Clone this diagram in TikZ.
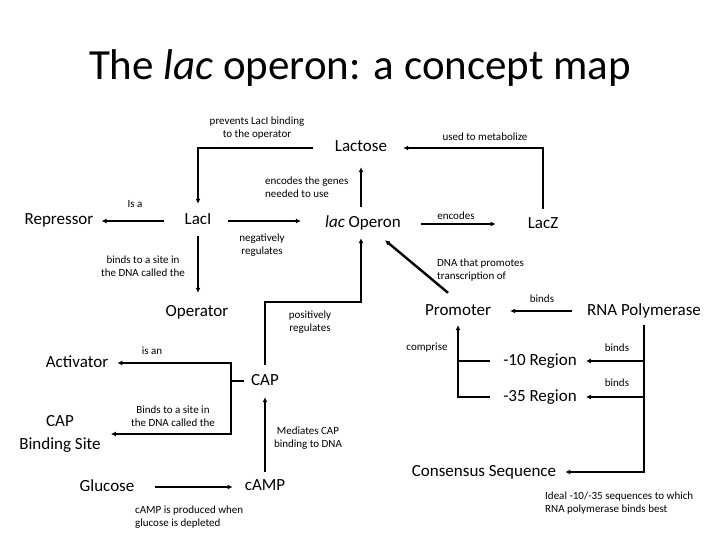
\documentclass[tikz,border=0pt]{standalone}
\usepackage{fontspec}
\setmainfont{Carlito}
\usetikzlibrary{arrows.meta}
\tikzset{
  bigfont/.style={inner sep=0pt, font=\fontsize{17}{23}\selectfont},
  concept/.style={bigfont, text height=12pt, text depth=4pt},
  linktext/.style={inner sep=0pt, align=center, font=\fontsize{11}{13.5}\selectfont},
  link/.style={line width=2.4pt, -{Latex[length=5pt,width=5pt]}},
  bare/.style={line width=2.4pt}
}

\begin{document}
\begin{tikzpicture}[x=1pt, y=-1pt]
			%%%%% START %%%%%
			\useasboundingbox[fill=white] (0, 0) rectangle (720, 540);
			
			\node[inner sep=0pt, font=\fontsize{43}{50}\selectfont] (title) at (360, 68) {The \textit{lac} operon: a concept map};
			
			% concepts
			\node[concept] (repr) at (59, 221) {Repressor};
			\node[concept] (laci) at (198, 221) {LacI};
			\node[concept] (lactose) at (361, 148) {Lactose};
			\node[concept] (operon) at (363, 224) {\textit{lac} Operon};
			\node[concept] (lacz) at (543, 225) {LacZ};
			\node[concept] (operator) at (197, 312) {Operator};
			\node[concept] (promoter) at (458, 311) {Promoter};
			\node[concept] (rnap) at (644, 311) {RNA Polymerase};
			\node[concept] (activator) at (77, 363) {Activator};
			\node[concept] (cap) at (265, 381) {CAP};
			\node[bigfont, align=center] (capbs) at (60, 434) {CAP\\Binding Site};
			\node[concept] (r10) at (540, 361) {-10 Region};
			\node[concept] (r35) at (540, 397) {-35 Region};
			\node[concept] (glucose) at (107, 487) {Glucose};
			\node[concept] (camp) at (265, 486) {cAMP};
			\node[concept] (consensus) at (484, 472) {Consensus Sequence};
			
			% link texts
			\node[linktext] (isa) at (135, 204) {Is a};
			\node[linktext] (negreg) at (262, 245) {negatively\\regulates};
			\node[linktext] (bindsop) at (143, 266) {binds to a site in\\the DNA called the};
			\node[linktext] (prevents) at (257, 128) {prevents LacI binding\\to the operator};
			\node[linktext] (metab) at (485, 137) {used to metabolize};
			\node[linktext, anchor=west, align=left] (genes) at (265, 187) {encodes the genes\\needed to use};
			\node[linktext] (encodes) at (456, 216) {encodes};
			\node[linktext, anchor=west, align=left] (dnaprom) at (437, 270) {DNA that promotes\\transcription of};
			\node[linktext] (bindsprom) at (542, 299) {binds};
			\node[linktext] (posreg) at (310, 322) {positively\\regulates};
			\node[linktext] (isan) at (152, 351) {is an};
			\node[linktext] (bindscap) at (173, 416) {Binds to a site in\\the DNA called the};
			\node[linktext] (mediates) at (308, 438) {Mediates CAP\\binding to DNA};
			\node[linktext, anchor=west, align=left] (produced) at (135, 517) {cAMP is produced when\\glucose is depleted};
			\node[linktext] (comprise) at (427, 348) {comprise};
			\node[linktext] (bindsten) at (617, 348) {binds};
			\node[linktext] (bindsthirty) at (617, 383) {binds};
			\node[linktext, anchor=west, align=left] (ideal) at (545, 503) {Ideal -10/-35 sequences to which\\RNA polymerase binds best};
			
			\coordinate (capbend) at (361, 302);
			\coordinate (capfork) at (231, 381);
			
			% connectors
			\draw[link, shorten <=20pt, shorten >=8pt] (laci.west) -- (repr.east);
			\draw[link, shorten <=16pt, shorten >=24pt] (laci.east) -- (laci.east -| operon.west);
			\draw[link, shorten <=7pt, shorten >=11pt] (laci.south) -- (laci.south |- operator.north);
			\draw[link, shorten <=22pt, shorten >=9pt] (lactose.west) -| (laci.north);
			\draw[link, shorten <=8pt, shorten >=16pt] (lacz.north) |- (lactose.east);
			\draw[link, shorten <=9pt, shorten >=11pt] (operon.north -| lactose.south) -- (lactose.south);
			\draw[link, shorten <=20pt, shorten >=32pt] (operon.east) -- (operon.east -| lacz.west);
			\draw[link] ([xshift=-10pt, yshift=10pt]promoter.north) -- ([xshift=22pt, yshift=-8pt]operon.south);
			\draw[link, shorten <=15pt, shorten >=19pt] (rnap.west) -- (promoter.east);
			
			\draw[link, shorten <=8pt, shorten >=6pt] (cap.north) |- (capbend) -- (capbend |- operon.south);
			\draw[bare, shorten <=7pt] (cap.west) -- (capfork);
			\draw[link, shorten >=9pt] (capfork) |- (activator.east);
			\draw[link, shorten >=10pt] (capfork) |- (capbs.east);
			\draw[link, shorten <=6pt, shorten >=8pt] (camp.north) -- (cap.south);
			\draw[link, shorten <=20pt, shorten >=12pt] (glucose.east) -- (glucose.east -| camp.west);
			
			\draw[link, shorten <=13pt, shorten >=6pt] (r35.west) -| (promoter.south);
			\draw[bare, shorten <=13pt] (r10.west) -- (r10.west -| promoter.south);
			\draw[link, shorten <=6pt, shorten >=9pt] (rnap.south) |- (consensus.east);
			\draw[link, shorten >=9pt] (rnap.south |- r10.east) -- (r10.east);
			\draw[link, shorten >=9pt] (rnap.south |- r35.east) -- (r35.east);
			
			%%%%% END %%%%%
\end{tikzpicture}
\end{document}
